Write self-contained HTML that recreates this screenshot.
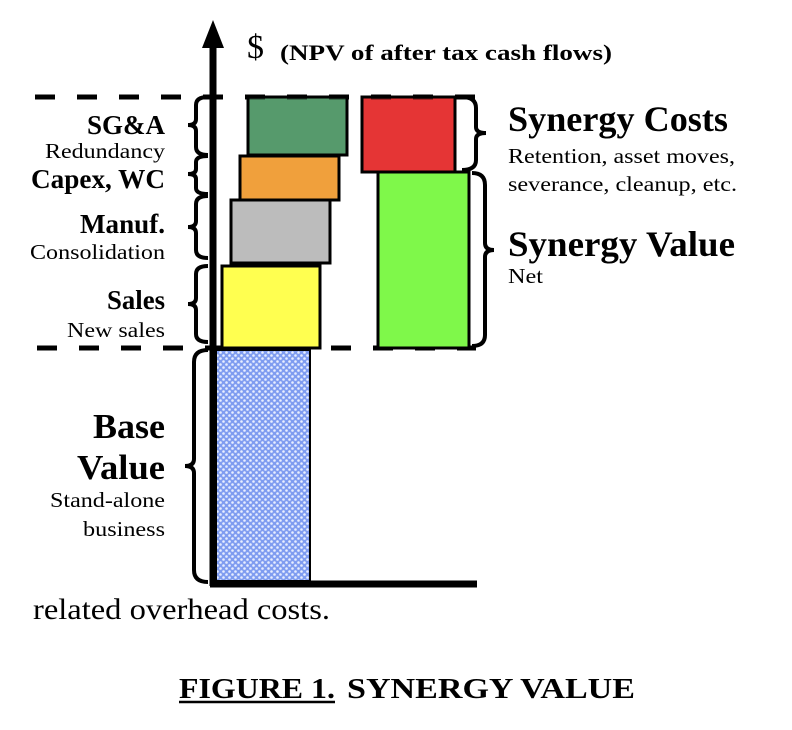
<!DOCTYPE html>
<html><head><style>body{margin:0;background:#fff}svg{display:block}</style></head><body>
<svg width="792" height="730" viewBox="0 0 792 730" xmlns="http://www.w3.org/2000/svg" font-family="Liberation Serif, serif">
<defs>
<pattern id="p" width="6" height="6" patternUnits="userSpaceOnUse">
<rect width="6" height="6" fill="#7f9cf0"/>
<circle cx="1.5" cy="1.5" r="1.3" fill="#e8eeff"/><circle cx="4.5" cy="4.5" r="1.3" fill="#e8eeff"/>
</pattern>
</defs>
<line x1="35" y1="97" x2="476" y2="97" stroke="#000" stroke-width="5" stroke-dasharray="20,22"/>
<line x1="37" y1="348" x2="476" y2="348" stroke="#000" stroke-width="5" stroke-dasharray="20,22"/>
<rect x="248" y="97" width="99" height="58" fill="#569a6c" stroke="#000" stroke-width="3"/>
<rect x="240" y="156" width="99" height="44" fill="#f0a03c" stroke="#000" stroke-width="3"/>
<rect x="231" y="200" width="99" height="63" fill="#bcbcbc" stroke="#000" stroke-width="3"/>
<rect x="222" y="266" width="98" height="82" fill="#ffff50" stroke="#000" stroke-width="3"/>
<rect x="216" y="350" width="94" height="231" fill="url(#p)" stroke="#000" stroke-width="2"/>
<rect x="362" y="97" width="93" height="75" fill="#e53535" stroke="#000" stroke-width="3"/>
<rect x="378" y="172" width="91" height="176" fill="#7ff84a" stroke="#000" stroke-width="3"/>
<line x1="35" y1="97" x2="476" y2="97" stroke="#000" stroke-width="5" stroke-dasharray="20,22" opacity="0.6"/>
<line x1="213" y1="44" x2="213" y2="586" stroke="#000" stroke-width="7"/>
<polygon points="213,20 202,48 224,48" fill="#000"/>
<line x1="210" y1="584" x2="477" y2="584" stroke="#000" stroke-width="7"/>
<g fill="none" stroke="#000" stroke-width="4">
<path d="M208,97 Q196,97 196,105 L196,119 Q196,125 188,125 Q196,125 196,131 L196,147 Q196,155 208,155"/>
<path d="M208,156 Q196,156 196,162 L196,169 Q196,174 188,174 Q196,174 196,179 L196,188 Q196,194 208,194"/>
<path d="M208,196 Q196,196 196,204 L196,221 Q196,227 188,227 Q196,227 196,233 L196,250 Q196,258 208,258"/>
<path d="M208,266 Q196,266 196,274 L196,298 Q196,304 188,304 Q196,304 196,310 L196,334 Q196,342 208,342"/>
<path d="M208,350 Q194,350 194,362 L194,459 Q194,466 185,466 Q194,466 194,473 L194,570 Q194,582 208,582"/>
<path d="M462,97 Q476,97 476,108 L476,127 Q476,133 486,133 Q476,133 476,139 L476,160 Q476,170 462,170"/>
<path d="M472,173 Q485,173 485,185 L485,243 Q485,250 494,250 Q485,250 485,257 L485,335 Q485,346 472,346"/>
</g>
<g fill="#000" lengthAdjust="spacingAndGlyphs">
<text x="87" y="134" font-size="27" font-weight="bold" textLength="78" lengthAdjust="spacingAndGlyphs">SG&amp;A</text>
<text x="45" y="158" font-size="21" textLength="120" lengthAdjust="spacingAndGlyphs">Redundancy</text>
<text x="31" y="188" font-size="27" font-weight="bold" textLength="134" lengthAdjust="spacingAndGlyphs">Capex, WC</text>
<text x="80" y="233" font-size="27" font-weight="bold" textLength="85" lengthAdjust="spacingAndGlyphs">Manuf.</text>
<text x="30" y="259" font-size="21" textLength="135" lengthAdjust="spacingAndGlyphs">Consolidation</text>
<text x="107" y="309" font-size="27" font-weight="bold" textLength="58" lengthAdjust="spacingAndGlyphs">Sales</text>
<text x="67" y="337" font-size="21" textLength="98" lengthAdjust="spacingAndGlyphs">New sales</text>
<text x="93" y="438" font-size="35" font-weight="bold" textLength="72" lengthAdjust="spacingAndGlyphs">Base</text>
<text x="77" y="479" font-size="35" font-weight="bold" textLength="88" lengthAdjust="spacingAndGlyphs">Value</text>
<text x="50" y="507" font-size="21" textLength="115" lengthAdjust="spacingAndGlyphs">Stand-alone</text>
<text x="83" y="536" font-size="21" textLength="82" lengthAdjust="spacingAndGlyphs">business</text>
<text x="247" y="58" font-size="34">$</text>
<text x="280" y="60" font-size="22" font-weight="bold" textLength="332" lengthAdjust="spacingAndGlyphs">(NPV of after tax cash flows)</text>
<text x="508" y="131" font-size="36" font-weight="bold" textLength="220" lengthAdjust="spacingAndGlyphs">Synergy Costs</text>
<text x="508" y="163" font-size="21" textLength="227" lengthAdjust="spacingAndGlyphs">Retention, asset moves,</text>
<text x="508" y="191" font-size="21" textLength="229" lengthAdjust="spacingAndGlyphs">severance, cleanup, etc.</text>
<text x="508" y="256" font-size="36" font-weight="bold" textLength="227" lengthAdjust="spacingAndGlyphs">Synergy Value</text>
<text x="508" y="283" font-size="21" textLength="35" lengthAdjust="spacingAndGlyphs">Net</text>
<text x="33" y="619" font-size="30" textLength="297" lengthAdjust="spacingAndGlyphs">related overhead costs.</text>
<text x="179" y="698" font-size="28" font-weight="bold" textLength="156" lengthAdjust="spacingAndGlyphs">FIGURE 1.</text>
<text x="347" y="698" font-size="28" font-weight="bold" textLength="288" lengthAdjust="spacingAndGlyphs">SYNERGY VALUE</text>
</g>
<line x1="179" y1="702" x2="335" y2="702" stroke="#000" stroke-width="2.5"/>
</svg>
</body></html>
